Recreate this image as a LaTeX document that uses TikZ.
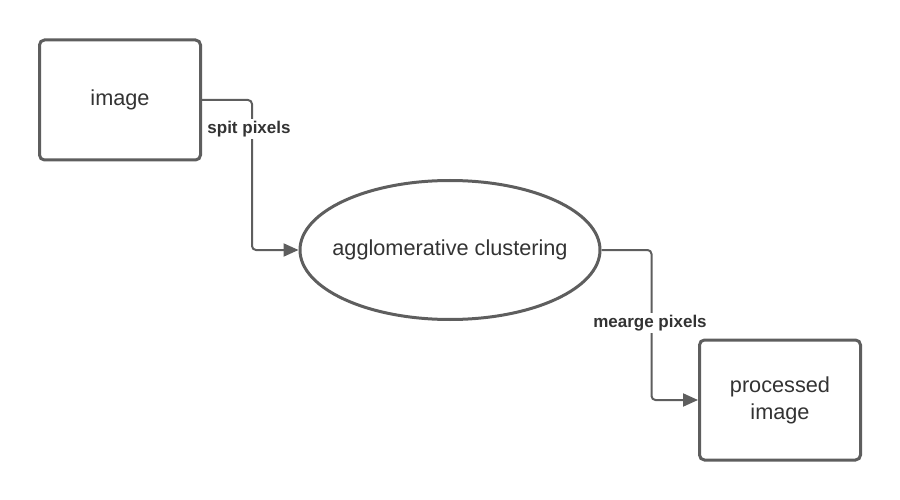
\documentclass[tikz,border=0pt]{standalone}
\usepackage{fontspec}
\setmainfont{Liberation Sans}
\usetikzlibrary{shapes.geometric,arrows.meta}
\definecolor{strk}{HTML}{5E5E5E}
\definecolor{txt}{HTML}{333333}
\begin{document}
\begin{tikzpicture}[x=1pt,y=-1pt,
 box/.style={draw=strk,line width=3pt,rounded corners=5pt,minimum width=161pt,minimum height=120pt,inner sep=0pt,align=center,text=txt,font=\fontsize{21.7}{27}\selectfont},
 ell/.style={ellipse,draw=strk,line width=3pt,minimum width=300pt,minimum height=139pt,inner sep=0pt},
 etext/.style={text=txt,font=\fontsize{21.7}{27}\selectfont,inner sep=0pt},
 conn/.style={draw=strk,line width=2pt,rounded corners=4pt,-{Triangle[length=15pt,width=13pt]}},
 lbl/.style={fill=white,text=txt,font=\bfseries\fontsize{17}{21}\selectfont,inner sep=2pt}]
\useasboundingbox (0,0) rectangle (900,500);
\node[box] (img) at (120,100) {image};
\node[ell] (clu) at (450,250) {};
\node[etext] (clut) at (clu.center) {agglomerative clustering};
\node[box] (out) at (780,400) {processed\\image};
\draw[conn] (img.east) -- ++(50,0) |- (clu.west);
\draw[conn] (clu.east) -- ++(50,0) |- (out.west);
\node[lbl] (l1) at (249,129) {spit pixels};
\node[lbl] (l2) at (650,323) {mearge pixels};
\end{tikzpicture}
\end{document}
